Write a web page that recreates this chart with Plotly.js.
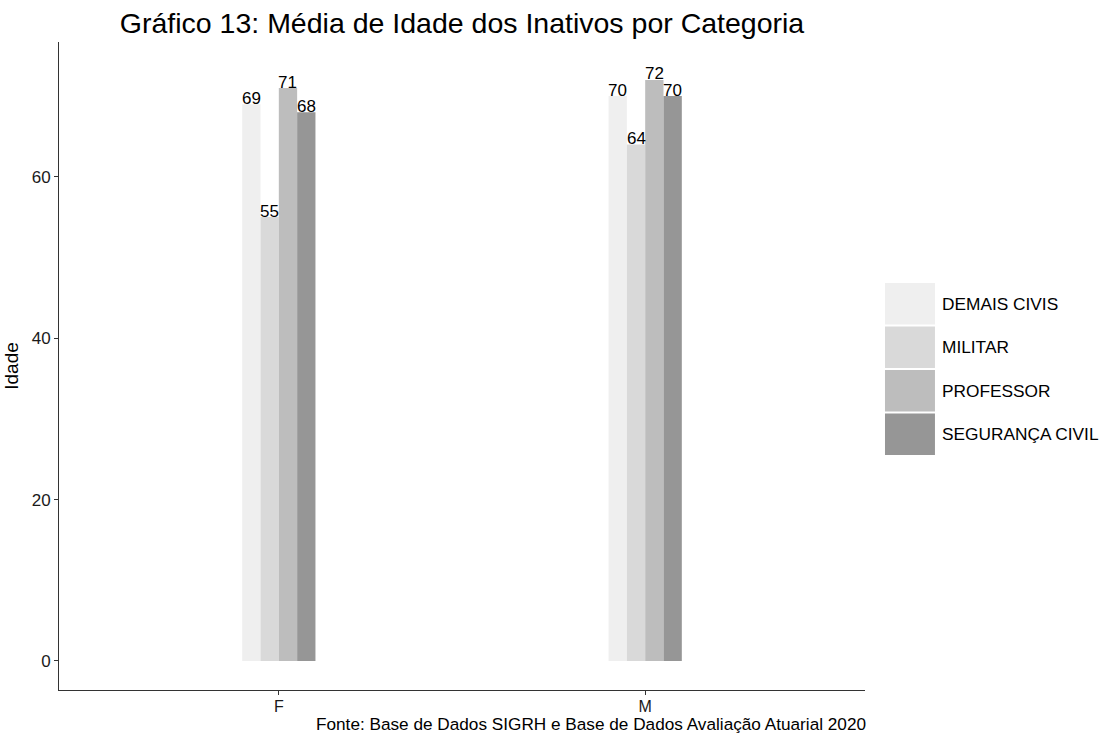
<!DOCTYPE html>
<html>
<head>
<meta charset="utf-8">
<script src="https://cdn.plot.ly/plotly-3.0.1.min.js"></script>
<style>html,body{margin:0;padding:0;background:#fff;}#chart{width:1104px;height:734px;}</style>
</head>
<body>
<div id="chart"></div>
<script>
var sexos = ["F", "M"];
var categorias = ["DEMAIS CIVIS", "MILITAR", "PROFESSOR", "SEGURANÇA CIVIL"];
var demaisCivis = [69, 70];
var militar = [55, 64];
var professor = [71, 72];
var segurancaCivil = [68, 70];
var valores = [demaisCivis, militar, professor, segurancaCivil];
var cores = ["#EFEFEF", "#D9D9D9", "#BDBDBD", "#969696"];
var yTicks = [0, 20, 40, 60];

var fontFam = "Liberation Sans, Arial, sans-serif";
var barW = 0.05;

var traces = categorias.map(function (c, j) {
  return {
    type: "bar",
    name: c,
    x: sexos,
    y: valores[j],
    marker: { color: cores[j], line: { width: 0 } },
    showlegend: false,
    hoverinfo: "x+y+name"
  };
});

var annotations = [];
categorias.forEach(function (c, j) {
  valores[j].forEach(function (v, i) {
    annotations.push({
      x: i + (j - 1.5) * barW,
      y: v,
      xref: "x",
      yref: "y",
      text: String(Math.round(v)),
      showarrow: false,
      yanchor: "middle",
      yshift: 6,
      font: { family: fontFam, size: 17, color: "#000" }
    });
  });
});

var shapes = [];
var legX0 = 1.0248, legX1 = 1.0868, legTop = 0.6296, legH = 0.0671;
categorias.forEach(function (c, j) {
  var yt = legTop - j * legH;
  shapes.push({
    type: "rect", xref: "paper", yref: "paper",
    x0: legX0, x1: legX1, y0: yt - legH + 0.0015, y1: yt - 0.0015,
    fillcolor: cores[j], line: { width: 0 }
  });
  annotations.push({
    xref: "paper", yref: "paper", x: 1.0935, y: yt - legH / 2,
    xanchor: "left", yanchor: "middle", showarrow: false,
    text: c, font: { family: fontFam, size: 17.3, color: "#000" }
  });
});

annotations.push({
  xref: "paper", yref: "paper", x: 1.002, y: -0.052,
  xanchor: "right", yanchor: "middle", showarrow: false, borderpad: 0,
  text: "Fonte: Base de Dados SIGRH e Base de Dados Avaliação Atuarial 2020",
  font: { family: fontFam, size: 17.2, color: "#000" }
});

var layout = {
  width: 1104, height: 734,
  margin: { l: 59, r: 239, t: 42, b: 44 },
  paper_bgcolor: "#fff", plot_bgcolor: "#fff",
  barmode: "group",
  bargap: 0.8, bargroupgap: 0,
  title: {
    text: "Gráfico 13: Média de Idade dos Inativos por Categoria",
    font: { family: fontFam, size: 28.5, color: "#000" },
    x: 0.4185, xanchor: "center", y: 0.968, yanchor: "middle"
  },
  xaxis: {
    type: "category",
    range: [-0.6, 1.6],
    showgrid: false, zeroline: false,
    showline: true, linecolor: "#333", linewidth: 1,
    ticks: "outside", ticklen: 4, tickcolor: "#333",
    ticklabelstandoff: -2,
    tickfont: { family: fontFam, size: 16, color: "#1a1a1a" },
    fixedrange: true
  },
  yaxis: {
    range: [-3.6, 76.7],
    tickvals: yTicks,
    ticktext: yTicks.map(String),
    showgrid: false, zeroline: false,
    showline: true, linecolor: "#333", linewidth: 1,
    ticks: "outside", ticklen: 4, tickcolor: "#333",
    tickfont: { family: fontFam, size: 17, color: "#1a1a1a" },
    title: { text: "Idade", font: { family: fontFam, size: 19, color: "#000" }, standoff: 8 },
    fixedrange: true
  },
  shapes: shapes,
  annotations: annotations
};

Plotly.newPlot("chart", traces, layout, { displayModeBar: false, responsive: false });
</script>
</body>
</html>
